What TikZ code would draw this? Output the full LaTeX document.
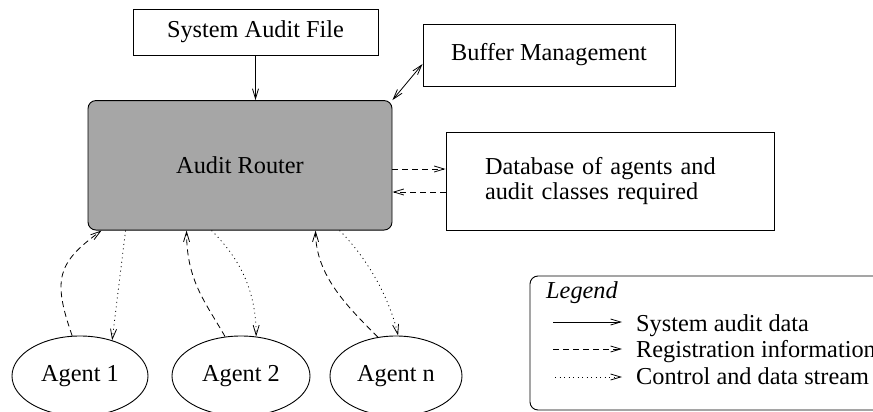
\documentclass[tikz,border=0pt]{standalone}
\usepackage{fontspec}
\setmainfont{Liberation Serif}
\usetikzlibrary{arrows.meta,shapes.geometric}
\begin{document}
\begin{tikzpicture}[x=1pt,y=-1pt,
  font=\fontsize{24.3}{25}\selectfont,
  box/.style={draw, rectangle, line width=0.9pt, inner sep=0pt},
  agent/.style={draw, ellipse, line width=0.9pt, inner sep=0pt, minimum width=136pt, minimum height=80pt},
  tip/.style={-{Straight Barb[length=10pt,width=6pt]}},
  sysarrow/.style={tip, line width=0.8pt},
  regarrow/.style={tip, line width=0.8pt, dash pattern=on 6pt off 4pt},
  ctlarrow/.style={tip, line width=0.8pt, dash pattern=on 1pt off 3.5pt},
  legtext/.style={anchor=base west, inner sep=0pt}]
\useasboundingbox (0,0) rectangle (873,412);
\clip (0,0) rectangle (873,412);

% boxes
\node[box, minimum width=245pt, minimum height=46pt] (saf) at (255.5,32) {System Audit File};
\node[box, minimum width=252pt, minimum height=62pt] (buf) at (549,55) {Buffer Management};
\node[box, fill=gray!70, rounded corners=8pt, minimum width=304pt, minimum height=129.5pt] (router) at (240,165.3) {Audit Router};
\node[box, minimum width=328pt, minimum height=98pt, text width=250pt, align=left] (db) at (610,181) {Database of agents and\\audit classes required};

% agents
\node[agent] (a1) at (80,376) {Agent 1};
\node[agent, minimum width=138pt] (a2) at (241,376) {Agent 2};
\node[agent, minimum width=132pt] (an) at (396,376) {Agent n};

% system audit data
\draw[sysarrow] (saf.south) -- (saf.south |- router.north);
\draw[{Straight Barb[length=10pt,width=6pt]}-{Straight Barb[length=10pt,width=6pt]}, line width=0.8pt]
  (router.north east) -- ([yshift=-9pt]buf.west);

% database
\coordinate (dbu) at ([yshift=12pt]db.west);
\coordinate (dbl) at ([yshift=-11pt]db.west);
\draw[regarrow] (dbu -| router.east) -- (dbu);
\draw[regarrow] (dbl) -- (dbl -| router.east);

% agent connectors
\draw[regarrow] (a1.101) .. controls +(-20,-57) and +(-44,32) .. ([xshift=14pt]router.south west);
\draw[ctlarrow] ([xshift=38pt]router.south west) -- (a1.48);
\draw[regarrow] (a2.112) .. controls +(-20,-35) and +(0,50) .. ([xshift=99pt]router.south west);
\draw[ctlarrow] ([xshift=124pt]router.south west) .. controls +(25,25) and +(0,-50) .. (a2.69);
\draw[regarrow] (an.115) .. controls +(-30,-30) and +(0,45) .. ([xshift=228pt]router.south west);
\draw[ctlarrow] ([xshift=252pt]router.south west) .. controls +(30,30) and +(-8,-35) .. (an.87);

% legend
\draw[line width=0.9pt, rounded corners=8pt] (530,276) rectangle (910,410);
\node[legtext] (lt) at (546,298) {\textit{Legend}};
\coordinate (l1s) at (553,322); \coordinate (l1e) at (622,322);
\coordinate (l2s) at (553,349); \coordinate (l2e) at (622,349);
\coordinate (l3s) at (555,377); \coordinate (l3e) at (622,377);
\draw[sysarrow] (l1s) -- (l1e);
\draw[regarrow] (l2s) -- (l2e);
\draw[ctlarrow] (l3s) -- (l3e);
\node[legtext] (t1) at (636,331) {System audit data};
\node[legtext] (t2) at (636,357) {Registration information};
\node[legtext] (t3) at (636,384) {Control and data stream};
\end{tikzpicture}
\end{document}
